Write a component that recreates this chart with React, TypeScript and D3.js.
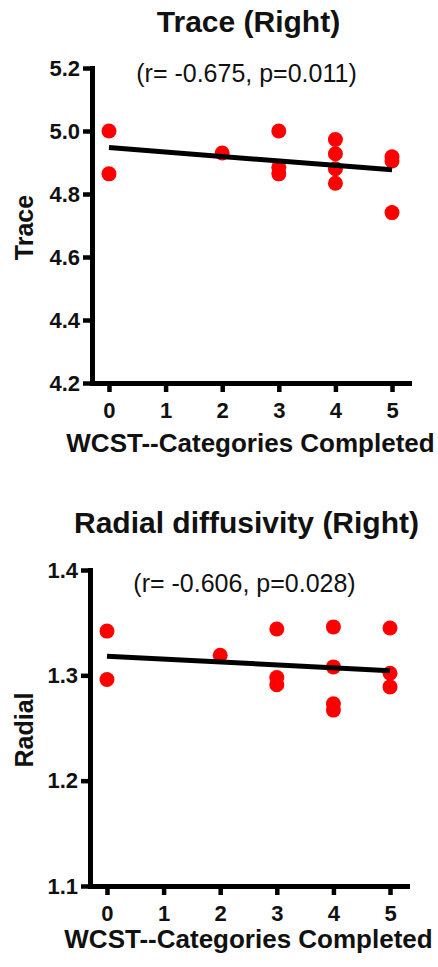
import { useEffect, useRef } from 'react'
import * as d3 from 'd3'

// WCST categories completed, one per subject (same subjects in both panels)
const categories = [0, 0, 2, 3, 3, 3, 4, 4, 4, 4, 5, 5, 5]
const traceValues = [5.0, 4.864, 4.93, 5.0, 4.885, 4.864, 4.973, 4.928, 4.88, 4.834, 4.918, 4.905, 4.741]
const radialValues = [1.342, 1.296, 1.319, 1.344, 1.298, 1.291, 1.346, 1.308, 1.273, 1.267, 1.345, 1.302, 1.289]

const xTicks = [0, 1, 2, 3, 4, 5]
const traceTicks = [4.2, 4.4, 4.6, 4.8, 5.0, 5.2]
const radialTicks = [1.1, 1.2, 1.3, 1.4]

const boldFont = '"Liberation Sans", Arial, sans-serif'

function fitLine(xs: number[], ys: number[]) {
  const mx = d3.mean(xs) as number
  const my = d3.mean(ys) as number
  const sxy = d3.sum(xs, (x, i) => (x - mx) * (ys[i] - my))
  const sxx = d3.sum(xs, x => (x - mx) * (x - mx))
  const slope = sxy / sxx
  return (x: number) => my + slope * (x - mx)
}

function Panel({ values, ticks, title, stat, yLabel, left, right, yTop, yBottom, titleY, statY, xTitleY }: any) {
  const xAxisRef = useRef<SVGGElement>(null)
  const yAxisRef = useRef<SVGGElement>(null)

  const x = d3.scaleLinear().domain([-0.3, 5.3]).range([left, right])
  const y = d3.scaleLinear().domain([ticks[0], ticks[ticks.length - 1]]).range([yBottom, yTop])

  useEffect(() => {
    const xAxis = d3.axisBottom(x).tickValues(xTicks).tickSize(9).tickPadding(10).tickSizeOuter(0).tickFormat(d3.format('d'))
    const yAxis = d3.axisLeft(y).tickValues(ticks).tickSize(9).tickPadding(3).tickSizeOuter(0).tickFormat(d3.format('.1f'))

    const gx = d3.select(xAxisRef.current!)
    gx.call(xAxis as any)
    const gy = d3.select(yAxisRef.current!)
    gy.call(yAxis as any)

    for (const g of [gx, gy]) {
      g.select('.domain').attr('stroke', '#000').attr('stroke-width', 5).attr('stroke-linecap', 'square')
      g.selectAll('.tick line').attr('stroke', '#000').attr('stroke-width', 4.5)
      g.selectAll('.tick text')
        .attr('fill', '#111')
        .style('font-family', boldFont)
        .style('font-weight', 'bold')
        .style('font-size', '22px')
    }
  }, [])

  const fit = fitLine(categories, values)
  const lineGen = d3.line<number>().x(d => x(d)).y(d => y(fit(d)))
  const fitEnds = d3.extent(categories) as [number, number]
  const midX = (left + right) / 2

  return (
    <g>
      <text x={midX - 2} y={titleY} textAnchor="middle" fontFamily={boldFont} fontWeight="bold" fontSize={30} fill="#111">{title}</text>
      <text x={midX - 4} y={statY} textAnchor="middle" fontFamily={boldFont} fontSize={25} fill="#111">{stat}</text>
      <text transform={`translate(33,${(yTop + yBottom) / 2 + 2}) rotate(-90)`} textAnchor="middle" fontFamily={boldFont} fontWeight="bold" fontSize={25} fill="#111">{yLabel}</text>
      <text x={midX} y={xTitleY} textAnchor="middle" fontFamily={boldFont} fontWeight="bold" fontSize={26} fill="#111">WCST--Categories Completed</text>

      {categories.map((c, i) => (
        <circle key={i} cx={x(c)} cy={y(values[i])} r={7.5} fill="#ff0000" />
      ))}
      <path d={lineGen(fitEnds) ?? ''} stroke="#000" strokeWidth={5} fill="none" />

      <g ref={xAxisRef} transform={`translate(0,${yBottom})`} />
      <g ref={yAxisRef} transform={`translate(${left},0)`} />
    </g>
  )
}

export default function App() {
  return (
    <svg width={438} height={967} style={{ position: 'absolute', left: 0, top: 0, background: '#fff' }}>
      <Panel values={traceValues} ticks={traceTicks} title="Trace (Right)" stat="(r= -0.675, p=0.011)" yLabel="Trace"
        left={92} right={409} yTop={68} yBottom={383} titleY={32} statY={82} xTitleY={452} />
      <Panel values={radialValues} ticks={radialTicks} title="Radial diffusivity (Right)" stat="(r= -0.606, p=0.028)" yLabel="Radial"
        left={90} right={407} yTop={570} yBottom={886} titleY={533} statY={592} xTitleY={948} />
    </svg>
  )
}
